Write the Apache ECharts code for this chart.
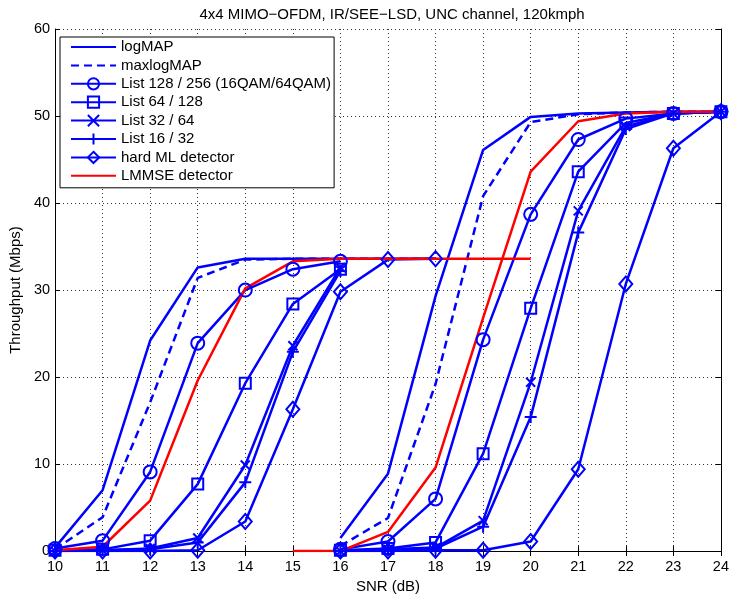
<!DOCTYPE html>
<html>
<head>
<meta charset="utf-8">
<script src="https://cdn.jsdelivr.net/npm/echarts@6/dist/echarts.min.js"></script>
<style>
    html, body { margin: 0; padding: 0; background: #fff; }
    #chart { width: 732px; height: 599px; }
</style>
</head>
<body>
<div id="chart"></div>
<script>
// SNR points (dB)
const snrLow = [10, 11, 12, 13, 14, 15, 16, 17, 18, 19, 20];
const snrHigh = [15, 16, 17, 18, 19, 20, 21, 22, 23, 24];

// 16QAM curves (on snrLow)
const logMAP16 = [0.4, 7.0, 24.2, 32.6, 33.6, 33.6, 33.6, 33.6, 33.6, null, null];
const maxlogMAP16 = [0.2, 3.9, 17.1, 31.4, 33.5, 33.6, 33.6, 33.6, 33.6, null, null];
const list128_16 = [0.3, 1.2, 9.1, 23.9, 30.0, 32.4, 33.3, null, null, null, null];
const list64_16 = [0.1, 0.2, 1.2, 7.7, 19.3, 28.4, 32.4, null, null, null, null];
const list32_16 = [0.0, 0.1, 0.3, 1.5, 9.9, 23.6, 32.6, null, null, null, null];
const list16_16 = [0.0, 0.1, 0.2, 1.0, 7.9, 22.9, 32.2, null, null, null, null];
const hardML16 = [0.0, 0.0, 0.0, 0.1, 3.4, 16.3, 29.8, 33.5, 33.6, null, null];
const lmmse16 = [0.1, 0.5, 5.8, 19.6, 30.2, 33.3, 33.6, 33.6, 33.6, 33.6, 33.6];

// 64QAM curves (on snrHigh)
const logMAP64 = [null, 1.5, 8.9, 29.3, 46.1, 49.9, 50.3, 50.4, 50.5, 50.5];
const maxlogMAP64 = [null, 0.6, 3.8, 19.2, 40.8, 49.3, 50.2, 50.4, 50.5, 50.5];
const list128_64 = [null, 0.2, 1.1, 6.0, 24.3, 38.7, 47.3, 49.7, 50.3, 50.5];
const list64_64 = [null, 0.1, 0.3, 1.0, 11.2, 27.9, 43.6, 49.2, 50.3, 50.5];
const list32_64 = [null, 0.0, 0.2, 0.4, 3.5, 19.4, 39.1, 48.8, 50.3, 50.5];
const list16_64 = [null, 0.0, 0.1, 0.3, 2.8, 15.4, 36.6, 48.5, 50.3, 50.5];
const hardML64 = [null, 0.0, 0.0, 0.1, 0.1, 1.1, 9.4, 30.7, 46.3, 50.5];
const lmmse64 = [0.0, 0.0, 2.2, 9.6, 26.8, 43.6, 49.4, 50.3, 50.5, 50.5];

const names = ['logMAP', 'maxlogMAP', 'List 128 / 256 (16QAM/64QAM)', 'List 64 / 128',
    'List 32 / 64', 'List 16 / 32', 'hard ML detector', 'LMMSE detector'];

const BLUE = '#0000ff';
const RED = '#ff0000';
const FONT = 'Liberation Sans';

function pairs(xs, ys) {
    return xs.map((x, i) => [x, ys[i]]).filter(p => p[1] !== null);
}

// marker look for each legend entry
const marks = {
    'logMAP': { symbol: 'none', dash: 'solid' },
    'maxlogMAP': { symbol: 'none', dash: [8, 5] },
    'List 128 / 256 (16QAM/64QAM)': { symbol: 'circle', size: 13 },
    'List 64 / 128': { symbol: 'rect', size: 11 },
    'List 32 / 64': { symbol: 'path://M0,0L10,10M10,0L0,10', size: 9 },
    'List 16 / 32': { symbol: 'path://M5,0L5,10M0,5L10,5', size: 12 },
    'hard ML detector': { symbol: 'diamond', size: [13, 15] },
    'LMMSE detector': { symbol: 'none', dash: 'solid', color: RED }
};

function makeSeries(name, xs, ys) {
    let m = marks[name];
    let c = m.color || BLUE;
    let noMark = m.symbol === 'none';
    return {
        name: name,
        type: 'line',
        data: pairs(xs, ys),
        color: c,
        symbol: m.symbol,
        symbolSize: m.size || 0,
        showSymbol: !noMark,
        lineStyle: { color: c, width: 2.5, type: m.dash || 'solid' },
        itemStyle: {
            color: 'rgba(0,0,0,0)',
            borderColor: noMark ? 'rgba(0,0,0,0)' : c,
            borderWidth: noMark ? 0 : 2
        },
        emphasis: { disabled: true },
        animation: false
    };
}

let series = [
    makeSeries(names[0], snrLow, logMAP16),
    makeSeries(names[0], snrHigh, logMAP64),
    makeSeries(names[1], snrLow, maxlogMAP16),
    makeSeries(names[1], snrHigh, maxlogMAP64),
    makeSeries(names[2], snrLow, list128_16),
    makeSeries(names[2], snrHigh, list128_64),
    makeSeries(names[3], snrLow, list64_16),
    makeSeries(names[3], snrHigh, list64_64),
    makeSeries(names[4], snrLow, list32_16),
    makeSeries(names[4], snrHigh, list32_64),
    makeSeries(names[5], snrLow, list16_16),
    makeSeries(names[5], snrHigh, list16_64),
    makeSeries(names[6], snrLow, hardML16),
    makeSeries(names[6], snrHigh, hardML64),
    makeSeries(names[7], snrLow, lmmse16),
    makeSeries(names[7], snrHigh, lmmse64)
];

let gridLine = { show: true, lineStyle: { color: '#333', width: 1, type: [1, 3] } };
let axisText = { color: '#000', fontFamily: FONT, fontSize: 15 };
let tickText = { color: '#000', fontFamily: FONT, fontSize: 14.5 };

let mychart = echarts.init(document.getElementById('chart'), null, { renderer: 'canvas' });
let option = {
    animation: false,
    backgroundColor: '#fff',
    title: {
        text: '4x4 MIMO\u2212OFDM, IR/SEE\u2212LSD, UNC channel, 120kmph',
        left: 387, top: 2, textAlign: 'center',
        textStyle: { fontFamily: FONT, fontSize: 15, fontWeight: 'normal', color: '#000' }
    },
    grid: { left: 53, right: 10, top: 29, bottom: 44 },
    legend: {
        data: names,
        orient: 'vertical',
        left: 60, top: 37,
        itemWidth: 45, itemHeight: 14, itemGap: 0.4,
        padding: [1, 3, 3, 10],
        borderColor: '#000', borderWidth: 1,
        backgroundColor: '#fff',
        selectedMode: false,
        textStyle: { fontFamily: FONT, fontSize: 15, color: '#000', lineHeight: 18 }
    },
    xAxis: [{
        type: 'value', min: 10, max: 24, interval: 1,
        name: 'SNR (dB)', nameLocation: 'middle', nameGap: 26,
        nameTextStyle: axisText,
        axisLine: { lineStyle: { color: '#000', width: 1 } },
        axisTick: { inside: true, length: 5, lineStyle: { color: '#000' } },
        axisLabel: Object.assign({ margin: 8 }, tickText),
        splitLine: gridLine
    }, {
        type: 'value', min: 10, max: 24, interval: 1, position: 'top',
        axisLine: { lineStyle: { color: '#000', width: 1 } },
        axisTick: { inside: true, length: 5, lineStyle: { color: '#000' } },
        axisLabel: { show: false },
        splitLine: { show: false }
    }],
    yAxis: [{
        type: 'value', min: 0, max: 60, interval: 10,
        name: 'Throughput (Mbps)', nameLocation: 'middle', nameGap: 27, nameRotate: 90,
        nameTextStyle: axisText,
        axisLine: { show: true, lineStyle: { color: '#000', width: 1 } },
        axisTick: { show: true, inside: true, length: 5, lineStyle: { color: '#000' } },
        axisLabel: Object.assign({ margin: 5 }, tickText),
        splitLine: gridLine
    }, {
        type: 'value', min: 0, max: 60, interval: 10, position: 'right',
        axisLine: { show: true, lineStyle: { color: '#000', width: 1 } },
        axisTick: { show: true, inside: true, length: 5, lineStyle: { color: '#000' } },
        axisLabel: { show: false },
        splitLine: { show: false }
    }],
    series: series
};
mychart.setOption(option);
</script>
</body>
</html>
